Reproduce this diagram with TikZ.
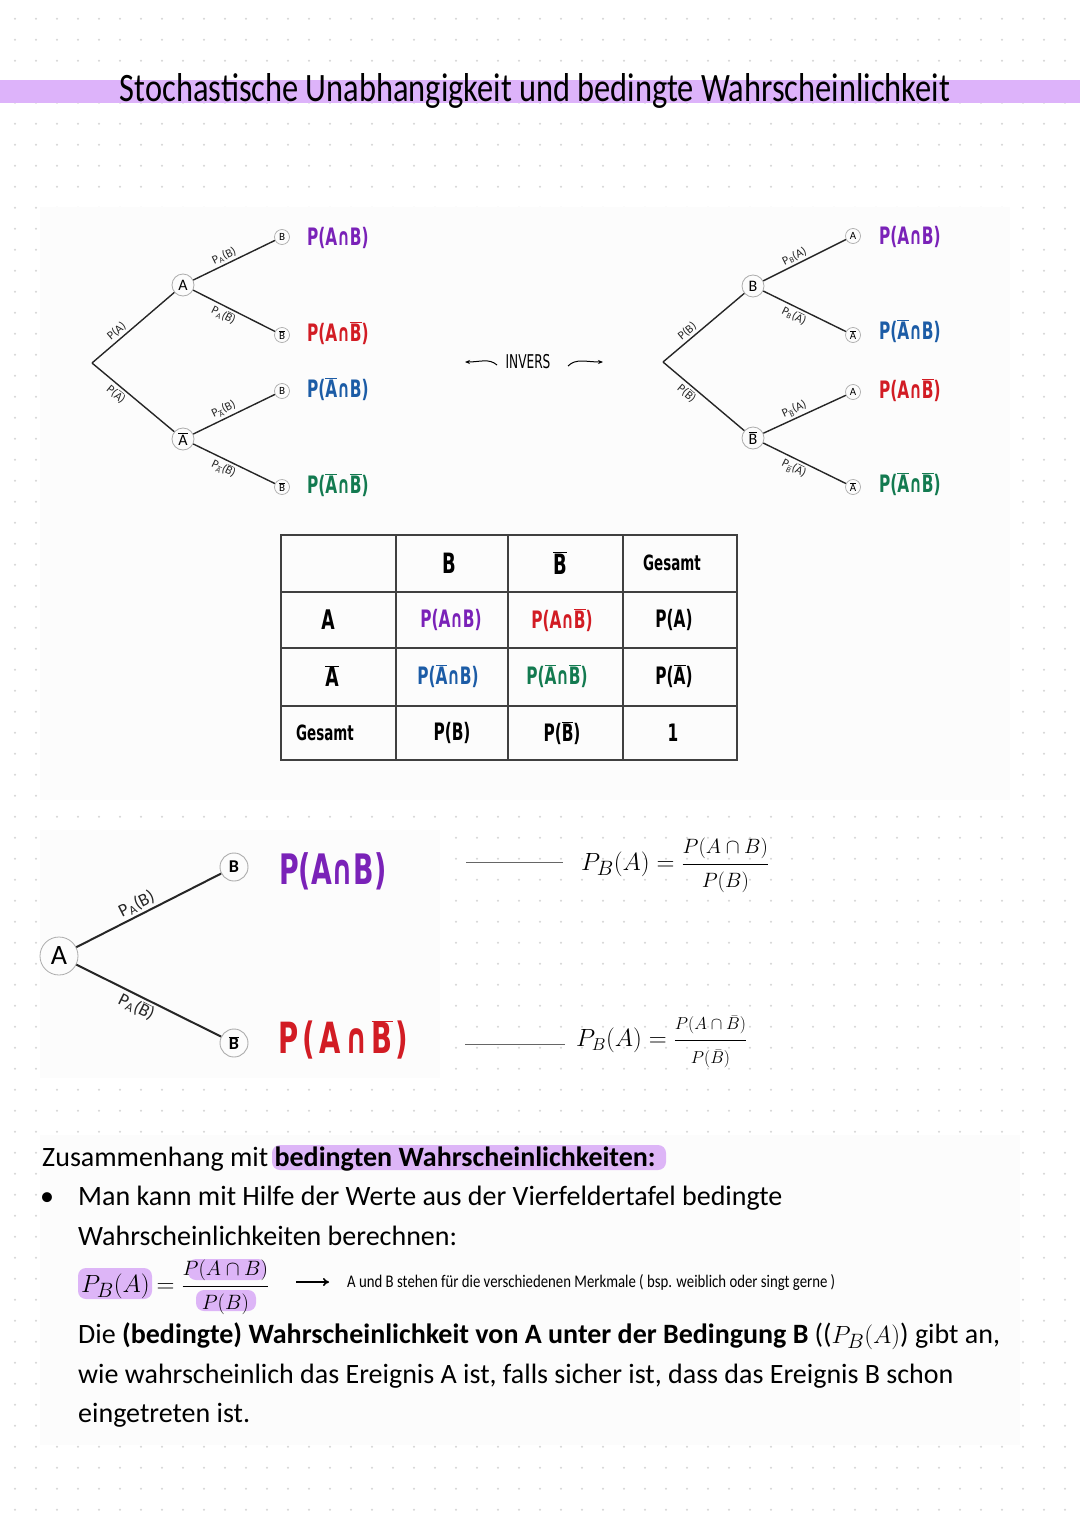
\documentclass[tikz,border=0pt]{standalone}
\usepackage{fontspec}
\usepackage{graphicx}
\usetikzlibrary{arrows.meta}
\setmainfont{Carlito}
\newfontfamily\hand{DejaVu Sans}[FakeStretch=0.64]
\newfontfamily\handthin{Carlito}
\newcommand\ovl[1]{$\overline{\mbox{#1}}$}
\newcommand\bfr[3]{{\displaystyle\frac{\mbox{\fontsize{#1}{#1}\selectfont$#2$}}{\mbox{\fontsize{#1}{#1}\selectfont$#3$}}}}
\definecolor{cpurple}{HTML}{7A22B8}
\definecolor{cred}{HTML}{D21C24}
\definecolor{cblue}{HTML}{1C5CA6}
\definecolor{cgreen}{HTML}{137A50}
\definecolor{band}{HTML}{DDB3FA}
\definecolor{hl}{HTML}{DDB5F7}
\definecolor{panel}{HTML}{FCFCFC}
\definecolor{dotc}{HTML}{D6D6D6}
\tikzset{
  edge/.style={line width=1.4pt, black!85},
  inode/.style={circle, draw=gray!65, line width=0.8pt, minimum size=22pt, inner sep=0pt, font=\handthin\fontsize{16}{16}\selectfont},
  leaf/.style={circle, draw=gray!65, line width=0.7pt, minimum size=15pt, inner sep=0pt, font=\handthin\fontsize{11}{11}\selectfont},
  elab/.style={font=\handthin\fontsize{12}{12}\selectfont, inner sep=2pt},
  hand/.style={font=\hand\bfseries\fontsize{24}{24}\selectfont, inner sep=0pt},
  bighand/.style={font=\hand\bfseries\fontsize{42}{42}\selectfont, inner sep=0pt},
  txt/.style={font=\fontsize{28}{32}\selectfont, inner sep=0pt},
  rulel/.style={line width=0.9pt, gray!80!black},
  hlbox/.style={fill=hl, rounded corners=8pt},
}
\begin{document}
\begin{tikzpicture}[x=1pt,y=-1pt]
\useasboundingbox (0,0) rectangle (1080,1528);
\fill[white] (0,0) rectangle (1080,1528);
% dot grid
\foreach \i in {0,...,51}{
  \foreach \j in {0,...,72}{
    \fill[dotc] (15+21*\i, 18.7+21*\j) circle (1.1);
  }
}
% panels
\fill[panel] (40,207) rectangle (1010,800);
\fill[panel] (40,830) rectangle (440,1078);
\fill[panel] (40,1135) rectangle (1020,1445);
% title band
\fill[band] (0,80) rectangle (1080,103);
\node[anchor=base, inner sep=0pt] (title) at (535,101)
  {\resizebox{830pt}{28pt}{Stochastische Unabhangigkeit und bedingte Wahrscheinlichkeit}};

% ---------- left tree ----------
\coordinate (r1) at (92,363);
\node[inode] (a1) at (183,285) {A};
\node[inode] (na1) at (183,439) {\ovl{A}};
\node[leaf] (l1) at (282,237) {B};
\node[leaf] (l2) at (282,335) {\ovl{B}};
\node[leaf] (l3) at (282,391) {B};
\node[leaf] (l4) at (282,487) {\ovl{B}};
\draw[edge] (r1) -- (a1) node[elab, pos=0.36, above, sloped] {P(A)};
\draw[edge] (r1) -- (na1) node[elab, pos=0.36, below, sloped] {P(\ovl{A})};
\draw[edge] (a1) -- (l1) node[elab, pos=0.42, above, sloped] {P\textsubscript{A}(B)};
\draw[edge] (a1) -- (l2) node[elab, pos=0.42, below, sloped] {P\textsubscript{A}(\ovl{B})};
\draw[edge] (na1) -- (l3) node[elab, pos=0.42, above, sloped] {P\textsubscript{\ovl{A}}(B)};
\draw[edge] (na1) -- (l4) node[elab, pos=0.42, below, sloped] {P\textsubscript{\ovl{A}}(\ovl{B})};
\node[hand, anchor=west, text=cpurple] (t1) at (307,238) {P(A∩B)};
\node[hand, anchor=west, text=cred] (t2) at (307,333) {P(A∩\ovl{B})};
\node[hand, anchor=west, text=cblue] (t3) at (307,389) {P(\ovl{A}∩B)};
\node[hand, anchor=west, text=cgreen] (t4) at (307,485) {P(\ovl{A}∩\ovl{B})};

% ---------- INVERS ----------
\node[font=\hand\fontsize{19}{19}\selectfont, inner sep=0pt] (inv) at (528,362) {INVERS};
\coordinate (ia1) at (497,365);
\coordinate (ia2) at (465,362);
\coordinate (ib1) at (568,366);
\coordinate (ib2) at (603,362);
\draw[line width=1pt, -{Stealth[length=5pt,width=4pt]}] (ia1) .. controls (489,358) and (480,362) .. (ia2);
\draw[line width=1pt, -{Stealth[length=5pt,width=4pt]}] (ib1) .. controls (576,358) and (586,362) .. (ib2);

% ---------- right tree ----------
\coordinate (r2) at (663,362);
\node[inode] (b2) at (753,286) {B};
\node[inode] (nb2) at (753,438) {\ovl{B}};
\node[leaf] (m1) at (853,236) {A};
\node[leaf] (m2) at (853,335) {\ovl{A}};
\node[leaf] (m3) at (853,392) {A};
\node[leaf] (m4) at (853,487) {\ovl{A}};
\draw[edge] (r2) -- (b2) node[elab, pos=0.36, above, sloped] {P(B)};
\draw[edge] (r2) -- (nb2) node[elab, pos=0.36, below, sloped] {P(\ovl{B})};
\draw[edge] (b2) -- (m1) node[elab, pos=0.42, above, sloped] {P\textsubscript{B}(A)};
\draw[edge] (b2) -- (m2) node[elab, pos=0.42, below, sloped] {P\textsubscript{B}(\ovl{A})};
\draw[edge] (nb2) -- (m3) node[elab, pos=0.42, above, sloped] {P\textsubscript{\ovl{B}}(A)};
\draw[edge] (nb2) -- (m4) node[elab, pos=0.42, below, sloped] {P\textsubscript{\ovl{B}}(\ovl{A})};
\node[hand, anchor=west, text=cpurple] (u1) at (879,237) {P(A∩B)};
\node[hand, anchor=west, text=cblue] (u2) at (879,331) {P(\ovl{A}∩B)};
\node[hand, anchor=west, text=cred] (u3) at (879,390) {P(A∩\ovl{B})};
\node[hand, anchor=west, text=cgreen] (u4) at (879,484) {P(\ovl{A}∩\ovl{B})};

% ---------- table ----------
\draw[line width=1.3pt, black!75] (281,535) rectangle (737,760);
\foreach \xx in {396,508,623} \draw[line width=1.3pt, black!75] (\xx,535) -- (\xx,760);
\foreach \yy in {592,648,706} \draw[line width=1.3pt, black!75] (281,\yy) -- (737,\yy);
\node[hand, font=\hand\bfseries\fontsize{28}{28}\selectfont] (hB) at (449,563) {B};
\node[hand, font=\hand\bfseries\fontsize{28}{28}\selectfont] (hnB) at (560,563) {\ovl{B}};
\node[hand, font=\hand\bfseries\fontsize{21}{21}\selectfont] (hG) at (672,563) {Gesamt};
\node[hand, font=\hand\bfseries\fontsize{27}{27}\selectfont] (rA) at (328,620) {A};
\node[hand, font=\hand\bfseries\fontsize{27}{27}\selectfont] (rnA) at (332,676) {\ovl{A}};
\node[hand, font=\hand\bfseries\fontsize{21}{21}\selectfont] (rG) at (325,733) {Gesamt};
\node[hand, text=cpurple] (c11) at (451,620) {P(A∩B)};
\node[hand, text=cred] (c12) at (562,620) {P(A∩\ovl{B})};
\node[hand] (c13) at (674,620) {P(A)};
\node[hand, text=cblue] (c21) at (448,676) {P(\ovl{A}∩B)};
\node[hand, text=cgreen] (c22) at (557,676) {P(\ovl{A}∩\ovl{B})};
\node[hand] (c23) at (674,676) {P(\ovl{A})};
\node[hand] (c31) at (452,733) {P(B)};
\node[hand] (c32) at (562,733) {P(\ovl{B})};
\node[hand] (c33) at (673,733) {1};

% ---------- bottom tree ----------
\node[inode, minimum size=38pt, font=\handthin\fontsize{28}{28}\selectfont] (a3) at (59,956) {A};
\node[leaf, minimum size=28pt, line width=0.9pt, font=\handthin\bfseries\fontsize{18}{18}\selectfont] (bb) at (234,867) {B};
\node[leaf, minimum size=28pt, line width=0.9pt, font=\handthin\bfseries\fontsize{18}{18}\selectfont] (nbb) at (234,1043) {\ovl{B}};
\draw[edge, line width=2pt] (a3) -- (bb) node[elab, font=\handthin\fontsize{18}{18}\selectfont, pos=0.45, above, sloped] {P\textsubscript{A}(B)};
\draw[edge, line width=2pt] (a3) -- (nbb) node[elab, font=\handthin\fontsize{18}{18}\selectfont, pos=0.45, below, sloped] {P\textsubscript{A}(\ovl{B})};
\node[bighand, anchor=west, text=cpurple] (v1) at (279,871) {P(A∩B)};
\node[bighand, anchor=west, text=cred, font=\hand\bfseries\fontsize{43}{43}\selectfont] (v2) at (278,1040)
  {P\kern4pt(\kern5pt A\kern4pt∩\kern4pt\ovl{B}\kern3pt)};

% ---------- formulas ----------
\coordinate (f1a) at (466,862);
\coordinate (f1b) at (563,862);
\coordinate (f2a) at (465,1044);
\coordinate (f2b) at (565,1044);
\draw[rulel] (f1a) -- (f1b);
\draw[rulel] (f2a) -- (f2b);
\node[anchor=west, inner sep=0pt, font=\fontsize{29}{32}\selectfont] (f1) at (581,865) {$P_B(A)=\bfr{21}{P(A\cap B)}{P(B)}$};
\node[anchor=west, inner sep=0pt, font=\fontsize{27}{30}\selectfont] (f2) at (576,1042) {$P_B(A)=\bfr{19}{P(A\cap\bar B)}{P(\bar B)}$};

% ---------- text block ----------
\fill[hlbox] (272,1145) rectangle (666,1170);
\fill[hlbox] (78,1268) rectangle (152,1299);
\fill[hlbox] (188,1259) rectangle (266,1280);
\fill[hlbox] (196,1290) rectangle (256,1311);
\node[txt, anchor=base west] (z1) at (42,1166) {Zusammenhang mit \textbf{bedingten Wahrscheinlichkeiten:}};
\node[txt, anchor=base] (bul) at (47,1205) {\textbullet};
\node[txt, anchor=base west] (z2) at (78,1205) {Man kann mit Hilfe der Werte aus der Vierfeldertafel bedingte};
\node[txt, anchor=base west] (z3) at (78,1245) {Wahrscheinlichkeiten berechnen:};
\node[anchor=base west, inner sep=0pt, font=\fontsize{28}{30}\selectfont] (z4) at (81,1292) {$P_B(A)=\bfr{20}{P(A\cap B)}{P(B)}$};
\coordinate (ar1) at (296,1282);
\coordinate (ar2) at (329,1282);
\draw[line width=1.6pt, -{To[length=6pt,width=8pt]}] (ar1) -- (ar2);
\node[anchor=west, inner sep=0pt] (note) at (347,1283)
  {\resizebox{488pt}{13pt}{A und B stehen für die verschiedenen Merkmale ( bsp. weiblich oder singt gerne )}};
\node[txt, anchor=base west] (z5) at (78,1343) {Die \textbf{(bedingte) Wahrscheinlichkeit von A unter der Bedingung B} (($P_B(A)$) gibt an,};
\node[txt, anchor=base west] (z6) at (78,1383) {wie wahrscheinlich das Ereignis A ist, falls sicher ist, dass das Ereignis B schon};
\node[txt, anchor=base west] (z7) at (78,1422) {eingetreten ist.};
\end{tikzpicture}
\end{document}
